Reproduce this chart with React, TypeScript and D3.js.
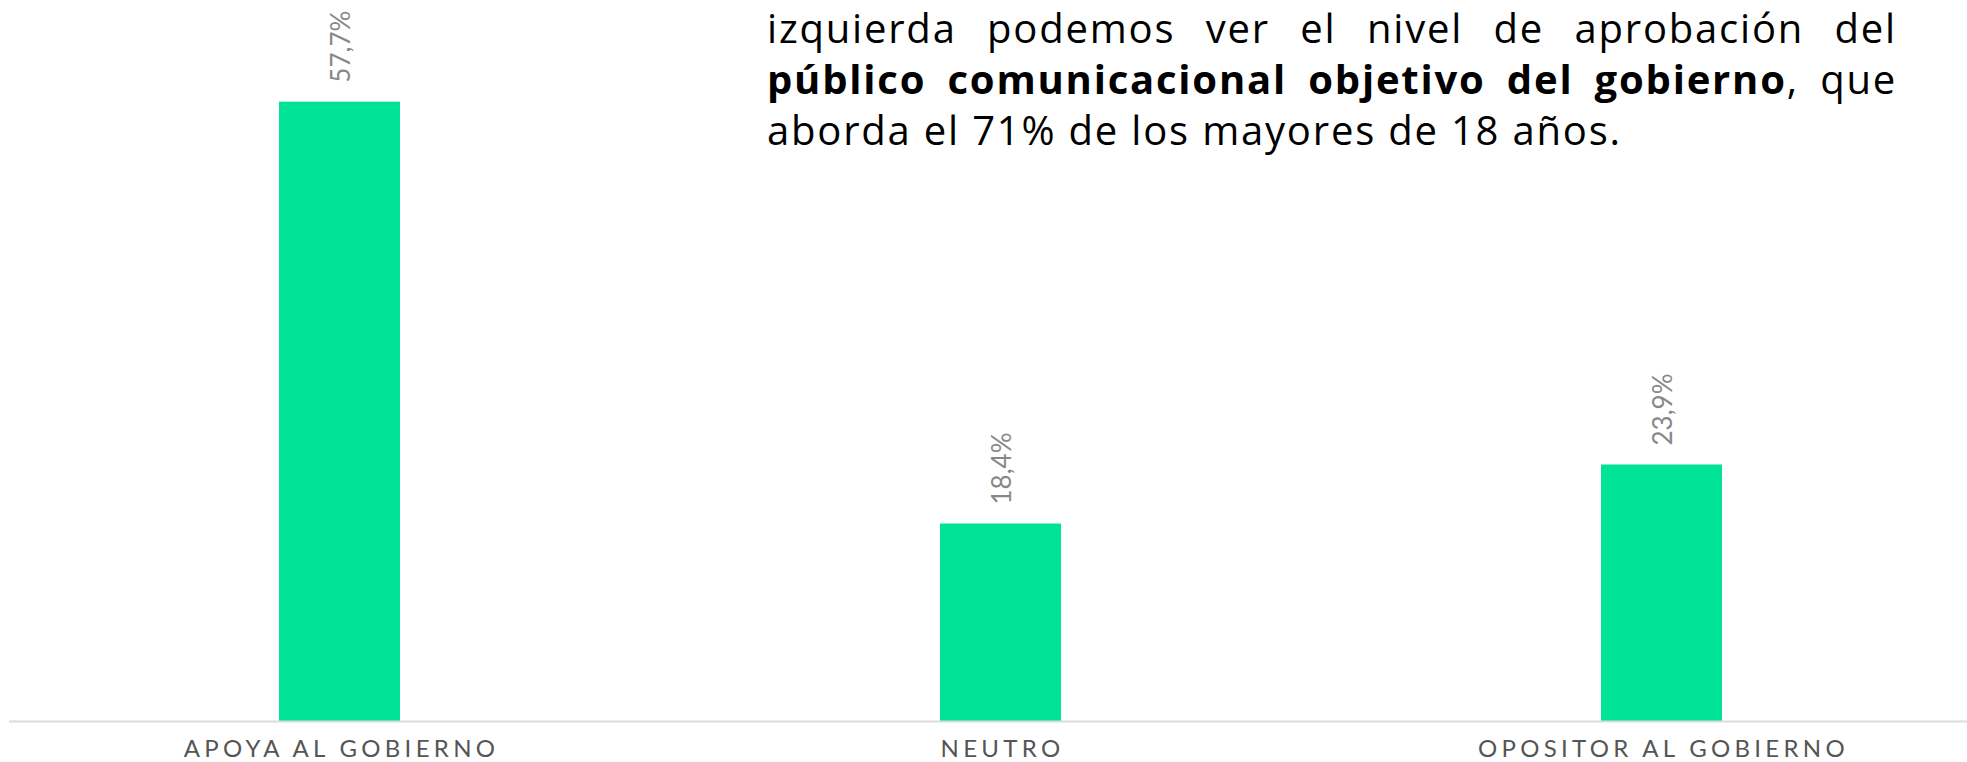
import React, { useLayoutEffect, useRef, useState } from 'react';
import * as d3 from 'd3';

const categories = ['APOYA AL GOBIERNO', 'NEUTRO', 'OPOSITOR AL GOBIERNO'];
const values = [57.7, 18.4, 23.9];

type Seg = { text: string; bold?: boolean };
type Word = Seg[];

const paragraphLines: { words: Word[]; justify: boolean }[] = [
  {
    justify: true,
    words: 'izquierda podemos ver el nivel de aprobación del'.split(' ').map(w => [{ text: w }]),
  },
  {
    justify: true,
    words: [
      [{ text: 'público', bold: true }],
      [{ text: 'comunicacional', bold: true }],
      [{ text: 'objetivo', bold: true }],
      [{ text: 'del', bold: true }],
      [{ text: 'gobierno', bold: true }, { text: ',' }],
      [{ text: 'que' }],
    ],
  },
  {
    justify: false,
    words: 'aborda el 71% de los mayores de 18 años.'.split(' ').map(w => [{ text: w }]),
  },
];

const WIDTH = 1967;
const HEIGHT = 762;
const BASELINE = 721;
const GREEN = '#00E396';

const TEXT_X = 767;
const TEXT_W = 1130;
const LINE_Y = [43, 94, 145];
const PARA_FONT = "'Open Sans', sans-serif";
const PARA_SIZE = 40;
const PARA_SPACING = 1.8;

// justified paragraph line: words are measured, then spread over TEXT_W
const JustifiedLine: React.FC<{ words: Word[]; y: number; justify: boolean }> = ({ words, y, justify }) => {
  const refs = useRef<(SVGTextElement | null)[]>([]);
  const [xs, setXs] = useState<number[] | null>(null);

  useLayoutEffect(() => {
    const widths = refs.current.map(el => (el ? el.getComputedTextLength() : 0));
    const total = d3.sum(widths);
    const gap = justify ? (TEXT_W - total) / (words.length - 1) : PARA_SIZE * 0.26 + PARA_SPACING;
    const pos: number[] = [];
    let x = TEXT_X;
    widths.forEach(w => {
      pos.push(x);
      x += w + gap;
    });
    setXs(pos);
  }, [words, justify]);

  return (
    <g fontFamily={PARA_FONT} fontSize={PARA_SIZE} letterSpacing={PARA_SPACING} fill="#000">
      {words.map((word, i) => (
        <text
          key={i}
          ref={el => { refs.current[i] = el; }}
          x={xs ? xs[i] : TEXT_X}
          y={y}
          opacity={xs ? 1 : 0}
        >
          {word.map((s, j) => (
            <tspan key={j} fontWeight={s.bold ? 700 : 400}>{s.text}</tspan>
          ))}
        </text>
      ))}
    </g>
  );
};

const App: React.FC = () => {
  const x = d3.scaleBand<string>()
    .domain(categories)
    .range([9, 1992])
    .paddingInner(0.817)
    .paddingOuter(0.4085);

  const y = d3.scaleLinear().domain([0, 60]).range([BASELINE, 77]);

  return (
    <svg
      width={WIDTH}
      height={HEIGHT}
      style={{ position: 'absolute', left: 0, top: 0, display: 'block' }}
    >
      <rect width={WIDTH} height={HEIGHT} fill="#fff" />

      {categories.map((c, i) => {
        const bx = x(c) ?? 0;
        const top = y(values[i]);
        const cx = bx + x.bandwidth() / 2;
        return (
          <g key={c}>
            <rect x={bx} y={top} width={x.bandwidth()} height={BASELINE - top} fill={GREEN} />
            <text
              transform={`translate(${cx}, ${top - 19}) rotate(-90)`}
              textAnchor="start"
              dominantBaseline="central"
              fontFamily="Lato, sans-serif"
              fontSize={26}
              fill="#888"
            >
              {values[i].toFixed(1).replace('.', ',')}%
            </text>
            <text
              x={cx + 2}
              y={757}
              textAnchor="middle"
              fontFamily="Lato, sans-serif"
              fontSize={24}
              letterSpacing={4.3}
              fill="#555"
            >
              {c}
            </text>
          </g>
        );
      })}

      <line x1={9} x2={WIDTH} y1={BASELINE + 0.5} y2={BASELINE + 0.5} stroke="#dcdcdc" strokeWidth={2} />

      {paragraphLines.map((l, i) => (
        <JustifiedLine key={i} words={l.words} y={LINE_Y[i]} justify={l.justify} />
      ))}
    </svg>
  );
};

export default App;
